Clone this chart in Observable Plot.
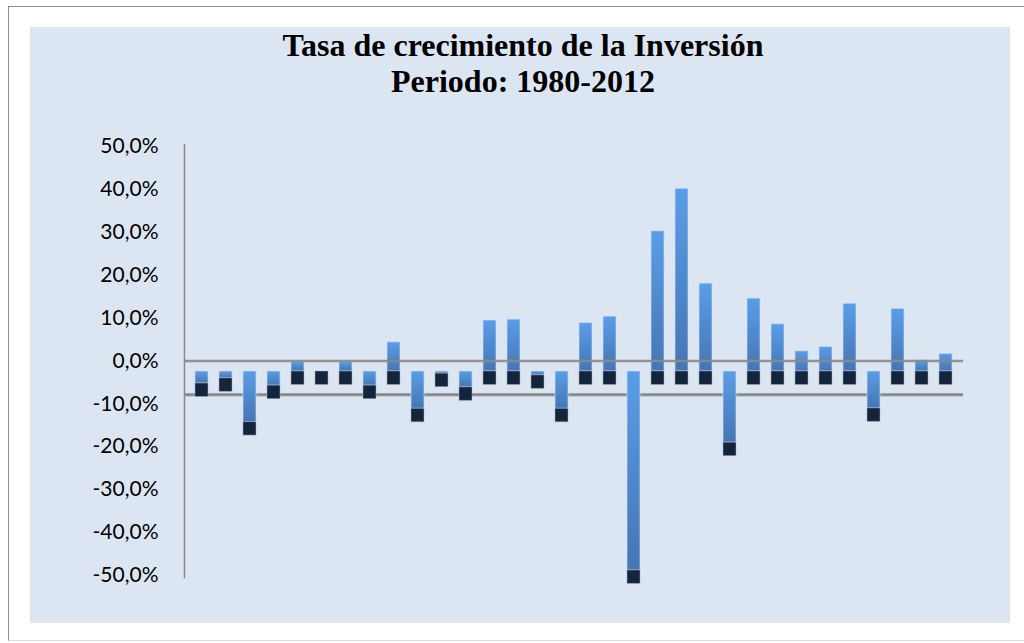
<!DOCTYPE html>
<html><head><meta charset="utf-8">
<script src="https://cdn.jsdelivr.net/npm/d3@7"></script>
<script src="https://cdn.jsdelivr.net/npm/@observablehq/plot@0.6"></script>
<style>
html,body{margin:0;padding:0;background:#fff;width:1024px;height:643px;overflow:hidden;}
#frame{position:absolute;left:8px;top:6px;width:1040px;height:633px;border:1px solid #8d8d8d;border-bottom-color:#d5dfec;background:#fff;}
#panel{position:absolute;left:30px;top:27px;width:980px;height:596px;background:#dce6f2;box-shadow:0 0 6px 3px rgba(255,255,255,0.95);}
#title{position:absolute;left:0;top:27px;width:1046px;text-align:center;font-family:"Liberation Serif","Times New Roman",serif;font-weight:bold;font-size:32px;line-height:36px;color:#000;}
#chart{position:absolute;left:0;top:110px;}
</style></head>
<body>
<div id="frame"></div>
<div id="panel"></div>
<div id="title">Tasa de crecimiento de la Inversión<br>Periodo: 1980-2012</div>
<div id="chart"></div>
<script>
const years = [1981,1982,1983,1984,1985,1986,1987,1988,1989,1990,1991,1992,1993,1994,1995,1996,
               1997,1998,1999,2000,2001,2002,2003,2004,2005,2006,2007,2008,2009,2010,2011,2012];
const growth = [-2.8,-1.6,-11.8,-3.3,2.2,0.0,2.2,-3.3,6.8,-8.7,-0.5,-3.7,11.9,12.1,-0.9,-8.7,
                11.3,12.8,-46.4,32.7,42.6,20.5,-16.6,17.0,11.0,4.7,5.7,15.8,-8.6,14.6,2.6,4.1];
const yTicks = [-50,-40,-30,-20,-10,0,10,20,30,40,50];

// 3D look constants (bars sit slightly in front of the back wall)
const base = -2.45;      // where bars start, relative to the back-wall axis
const depth = 3.15;      // visible end face of each column
const floorEdge = -7.85; // front edge of the floor

const rows = years.map((yr, i) => ({year: yr, v: growth[i]}));
const light = rows.filter(d => d.v !== 0).map(d => ({year: d.year, y1: base, y2: base + d.v}));
const dark = rows.map(d => {
  const end = Math.min(base, base + d.v);
  return {year: d.year, y1: end, y2: end - depth};
});

const svg = Plot.plot({
  width: 1024,
  height: 533,
  marginTop: 34,
  marginBottom: 66,
  marginLeft: 184,
  marginRight: 61,
  style: {background: "transparent", fontFamily: "Lato, sans-serif", fontSize: "21px", color: "#000", overflow: "visible"},
  x: {domain: years, paddingInner: 0.44, paddingOuter: 0.22, axis: null},
  y: {domain: [-50.5, 50.5], axis: null},
  marks: [
    Plot.ruleY([floorEdge], {stroke: "#8a8a8a", strokeWidth: 3}),
    Plot.barY(light, {x: "year", y1: "y1", y2: "y2", fill: "url(#barGrad)", stroke: "#c9dbf2", strokeOpacity: 0.7, strokeWidth: 1}),
    Plot.barY(dark, {x: "year", y1: "y1", y2: "y2", fill: "#13243b", stroke: "#9fb3cc", strokeOpacity: 0.5, strokeWidth: 1}),
    Plot.ruleY([0], {stroke: "#8a8a8a", strokeWidth: 2.5, strokeOpacity: 0.9}),
    Plot.frame({anchor: "left", stroke: "#8c8c8c", strokeWidth: 1.5}),
    Plot.axisY({ticks: yTicks, tickSize: 0, tickPadding: 26, label: null,
      tickFormat: d => d.toFixed(1).replace(".", ",") + "%", fill: "#000"})
  ]
});

const defs = d3.select(svg).insert("defs", ":first-child");
const g = defs.append("linearGradient").attr("id", "barGrad")
  .attr("x1", 0).attr("y1", 0).attr("x2", 0).attr("y2", 1);
g.append("stop").attr("offset", "0%").attr("stop-color", "#5a9de8");
g.append("stop").attr("offset", "100%").attr("stop-color", "#4576b4");

document.getElementById("chart").appendChild(svg);
</script>
</body></html>
